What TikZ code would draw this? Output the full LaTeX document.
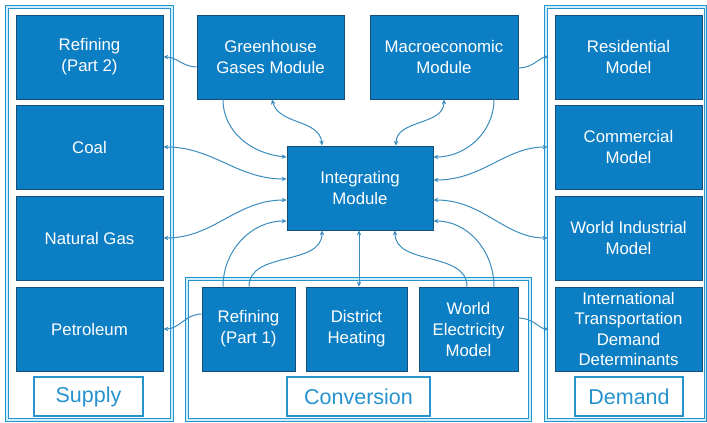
\documentclass[tikz,border=0pt]{standalone}
\usepackage{fontspec}
\setmainfont{Liberation Sans}
\usepackage{tikz}
\usetikzlibrary{arrows.meta}

\definecolor{boxblue}{RGB}{12,126,196}
\definecolor{boxedge}{RGB}{22,78,122}
\definecolor{frameblue}{RGB}{38,146,206}
\definecolor{lineblue}{RGB}{58,140,190}

\begin{document}
\begin{tikzpicture}[x=1pt, y=-1pt]
\tikzstyle{module} = [draw=boxedge, line width=0.8pt, fill=boxblue, text=white, align=center,
  inner sep=0pt, minimum height=84pt, font=\fontsize{16.8}{21}\selectfont]
\tikzstyle{group} = [draw=frameblue, line width=1.8pt, fill=white, text=frameblue,
  inner sep=0pt, minimum height=39pt, font=\fontsize{21.5}{24}\selectfont]
\tikzstyle{frame} = [draw=frameblue, line width=0.9pt, double=white!80!cyan, double distance=1.3pt]
\tikzstyle{arr} = [draw=lineblue, line width=1pt, -{Stealth[length=5pt,width=4.5pt]}]
\tikzstyle{both} = [draw=lineblue, line width=1pt, {Stealth[length=5pt,width=4.5pt]}-{Stealth[length=5pt,width=4.5pt]}]

\useasboundingbox (0,0) rectangle (707,423);

% frames
\draw[frame] (7,7) rectangle (172,420);
\draw[frame] (546,7) rectangle (705.5,420);
\draw[frame] (187,279) rectangle (530,420);

% supply
\node[module, minimum width=147pt] (ref2) at (89.5,57) {Refining\\(Part 2)};
\node[module, minimum width=147pt] (coal) at (89.5,147) {Coal};
\node[module, minimum width=147pt] (ngas) at (89.5,238) {Natural Gas};
\node[module, minimum width=147pt] (petro) at (89.5,329) {Petroleum};
\node[group, minimum width=109pt] (supply) at (88.5,396.5) {Supply};

% middle
\node[module, minimum width=147pt] (ghg) at (270.5,57) {Greenhouse\\Gases Module};
\node[module, minimum width=148pt] (macro) at (444,57) {Macroeconomic\\Module};
\node[module, minimum width=146pt] (integ) at (360,188) {Integrating\\Module};

% conversion
\node[module, minimum width=93pt] (ref1) at (248.5,329) {Refining\\(Part 1)};
\node[module, minimum width=101pt] (dist) at (356.5,329) {District\\Heating};
\node[module, minimum width=99pt] (welec) at (468.5,329) {World\\Electricity\\Model};
\node[group, minimum width=143pt] (conv) at (358.5,396.5) {Conversion};

% demand
\node[module, minimum width=147pt] (resid) at (628.5,57) {Residential\\Model};
\node[module, minimum width=147pt] (comm) at (628.5,147) {Commercial\\Model};
\node[module, minimum width=147pt] (wind) at (628.5,238) {World Industrial\\Model};
\node[module, minimum width=147pt, font=\fontsize{16.8}{20.5}\selectfont] (intl) at (628.5,329) {International\\Transportation\\Demand\\Determinants};
\node[group, minimum width=108pt] (demand) at (629,396.5) {Demand};

% links
\draw[arr] ([yshift=-10pt]ghg.west) to[out=180, in=0] (ref2.east);
\draw[arr] ([xshift=-47.5pt]ghg.south) to[out=-90, in=175] ([yshift=31pt]integ.west);
\draw[both] ([xshift=1.5pt]ghg.south) to[out=-75, in=95] ([xshift=-38pt]integ.north);
\draw[both] (coal.east) to[out=0, in=180] ([yshift=9pt]integ.west);
\draw[both] (ngas.east) to[out=0, in=180] ([yshift=-12pt]integ.west);
\draw[arr] ([xshift=-25.5pt]ref1.north) to[out=90, in=180] ([yshift=-33pt]integ.west);
\draw[arr] ([xshift=0.5pt]ref1.north) to[out=90, in=-90] ([xshift=-38pt]integ.south);
\draw[arr] ([yshift=15pt]ref1.west) to[out=180, in=0] (petro.east);
\draw[both] ([xshift=2.5pt]dist.north) -- ([xshift=-1pt]integ.south);
\draw[arr] ([xshift=-1.5pt]welec.north) to[out=90, in=-90] ([xshift=35pt]integ.south);
\draw[arr] ([xshift=25.5pt]welec.north) to[out=90, in=0] ([yshift=-33pt]integ.east);
\draw[arr, shorten >=6pt] ([yshift=11pt]welec.east) to[out=0, in=180] (intl.west);
\draw[both, shorten <=7pt] (wind.west) to[out=180, in=0] ([yshift=-12pt]integ.east);
\draw[both, shorten <=7pt] (comm.west) to[out=180, in=0] ([yshift=8pt]integ.east);
\draw[arr] ([xshift=50pt]macro.south) to[out=-90, in=0] ([yshift=31pt]integ.east);
\draw[both] (macro.south) to[out=-90, in=90] ([xshift=36pt]integ.north);
\draw[arr, shorten >=6pt] ([yshift=-11pt]macro.east) to[out=0, in=180] (resid.west);
\end{tikzpicture}
\end{document}
